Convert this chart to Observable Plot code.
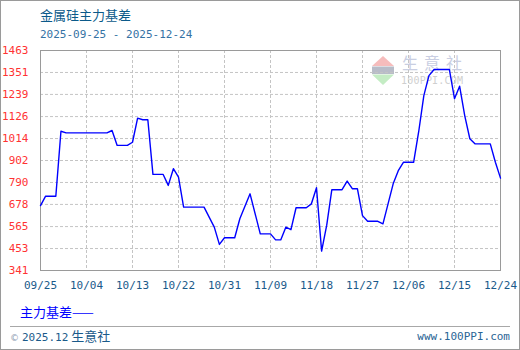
<!DOCTYPE html>
<html>
<head>
<meta charset="utf-8">
<script src="https://cdn.jsdelivr.net/npm/d3@7"></script>
<script src="https://cdn.jsdelivr.net/npm/@observablehq/plot@0.6"></script>
<style>
  html, body { margin: 0; padding: 0; background: #fff; }
  #wrap { position: relative; width: 520px; height: 350px; overflow: hidden; background: #fff; font-family: "Noto Sans CJK SC", sans-serif; }
  .abs { position: absolute; white-space: nowrap; line-height: 1; }
  #border { position: absolute; left: 0; top: 0; width: 520px; height: 350px; box-sizing: border-box; border: 1px solid #9a9a9a; z-index: 10; pointer-events: none; }
  #title { left: 40px; top: 8px; font-size: 13px; color: #0b5a8a; }
  #subtitle { left: 40px; top: 29px; font-size: 11px; color: #3572a4; font-family: "DejaVu Sans Mono", monospace; }
  #legend { left: 20px; top: 305px; font-size: 13px; color: #0000ff; }
  #sep { position: absolute; left: 10px; top: 326px; width: 500px; height: 0; border-top: 1px solid #a8a8a8; }
  #copy { left: 10px; top: 329px; font-size: 13px; color: #1a5a8a; }
  #copy .c { font-size: 9px; color: #8a9ab0; font-family: "DejaVu Sans", sans-serif; }
  #copy .m { font-family: "DejaVu Sans Mono", monospace; font-size: 11px; }
  #site { right: 10px; top: 331px; font-size: 11px; color: #2a6595; font-family: "DejaVu Sans Mono", monospace; }
  #chart { position: absolute; left: 0; top: 0; }
  #wm { position: absolute; left: 0; top: 0; }
</style>
</head>
<body>
<div id="wrap">
  <svg id="wm" width="520" height="350">
    <polygon points="372,66 383,56 394,66" fill="#f6bcbc"/>
    <rect x="372" y="66.5" width="22" height="7.5" fill="#b8bcc8"/>
    <polygon points="372,74.5 394,74.5 383,85" fill="#c4ecc4"/>
    <text x="402" y="68.5" font-size="16" fill="#c9cee2" letter-spacing="6" font-family="Noto Sans CJK SC">生意社</text>
    <text x="401" y="83.5" font-size="10" fill="#cfcfcf" font-family="DejaVu Sans Mono" letter-spacing="0.2">100PPI.COM</text>
  </svg>
  <div id="chart"></div>
  <div id="title" class="abs">金属硅主力基差</div>
  <div id="subtitle" class="abs">2025-09-25 - 2025-12-24</div>
  <div id="legend" class="abs">主力基差——</div>
  <div id="sep"></div>
  <div id="copy" class="abs"><span class="c">©</span> <span class="m">2025.12</span> 生意社</div>
  <div id="site" class="abs">www.100PPI.com</div>
  <div id="border"></div>
</div>
<script>
const dates = [
  "2025-09-25","2025-09-26","2025-09-28","2025-09-29","2025-09-30","2025-10-08","2025-10-09","2025-10-10",
  "2025-10-12","2025-10-13","2025-10-14","2025-10-15","2025-10-16","2025-10-17","2025-10-19","2025-10-20",
  "2025-10-21","2025-10-22","2025-10-23","2025-10-27","2025-10-29","2025-10-30","2025-10-31","2025-11-02",
  "2025-11-03","2025-11-05","2025-11-07","2025-11-09","2025-11-10","2025-11-11","2025-11-12","2025-11-13",
  "2025-11-14","2025-11-16","2025-11-17","2025-11-18","2025-11-19","2025-11-20","2025-11-21","2025-11-23",
  "2025-11-24","2025-11-25","2025-11-26","2025-11-27","2025-11-28","2025-11-30","2025-12-01","2025-12-02",
  "2025-12-03","2025-12-04","2025-12-05","2025-12-07","2025-12-08","2025-12-09","2025-12-10","2025-12-11",
  "2025-12-14","2025-12-15","2025-12-16","2025-12-17","2025-12-18","2025-12-19","2025-12-22","2025-12-23",
  "2025-12-24"
];
const values = [
  672, 720, 720, 1051, 1043, 1043, 1055, 979,
  979, 995, 1118, 1110, 1110, 831, 831, 775,
  860, 817, 664, 664, 562, 474, 508, 508,
  605, 732, 528, 528, 497, 497, 562, 549,
  661, 661, 681, 763, 440, 572, 753, 753,
  797, 758, 758, 621, 592, 592, 579, 681,
  783, 850, 893, 893, 1050, 1233, 1335, 1366,
  1366, 1217, 1281, 1131, 1013, 987, 987, 893,
  812
];
const yTicks = [341, 453, 565, 678, 790, 902, 1014, 1126, 1239, 1351, 1463];
const xTickLabels = ["09/25","10/04","10/13","10/22","10/31","11/09","11/18","11/27","12/06","12/15","12/24"];
const year = 2025;

const data = dates.map((d, i) => ({date: new Date(d + "T00:00:00Z"), value: values[i]}));
const xTicks = xTickLabels.map(l => { const [m, d] = l.split("/"); return new Date(Date.UTC(year, +m - 1, +d)); });

const chart = Plot.plot({
  width: 520,
  height: 350,
  marginLeft: 40,
  marginRight: 20,
  marginTop: 50,
  marginBottom: 80,
  style: {background: "transparent", fontFamily: "DejaVu Sans Mono, monospace", fontSize: "11px"},
  x: {type: "utc", domain: [xTicks[0], xTicks[xTicks.length - 1]]},
  y: {domain: [yTicks[0], yTicks[yTicks.length - 1]]},
  marks: [
    Plot.gridX(xTicks.slice(1, -1), {stroke: "#c4c4c4", strokeOpacity: 1, strokeDasharray: "3,2"}),
    Plot.gridY(yTicks.slice(1, -1), {stroke: "#c4c4c4", strokeOpacity: 1, strokeDasharray: "3,2"}),
    Plot.frame({stroke: "#9a9a9a"}),
    Plot.axisX(xTicks, {tickSize: 0, tickPadding: 11, tickFormat: d => xTickLabels[xTicks.findIndex(t => +t === +d)], fill: "#1a5a8a", label: null}),
    Plot.axisY(yTicks, {tickSize: 0, tickPadding: 12, tickFormat: d => String(d), fill: "#ff3333", label: null}),
    Plot.line(data, {x: "date", y: "value", stroke: "#0000ff", strokeWidth: 1.4})
  ]
});
document.getElementById("chart").appendChild(chart);
</script>
</body>
</html>
